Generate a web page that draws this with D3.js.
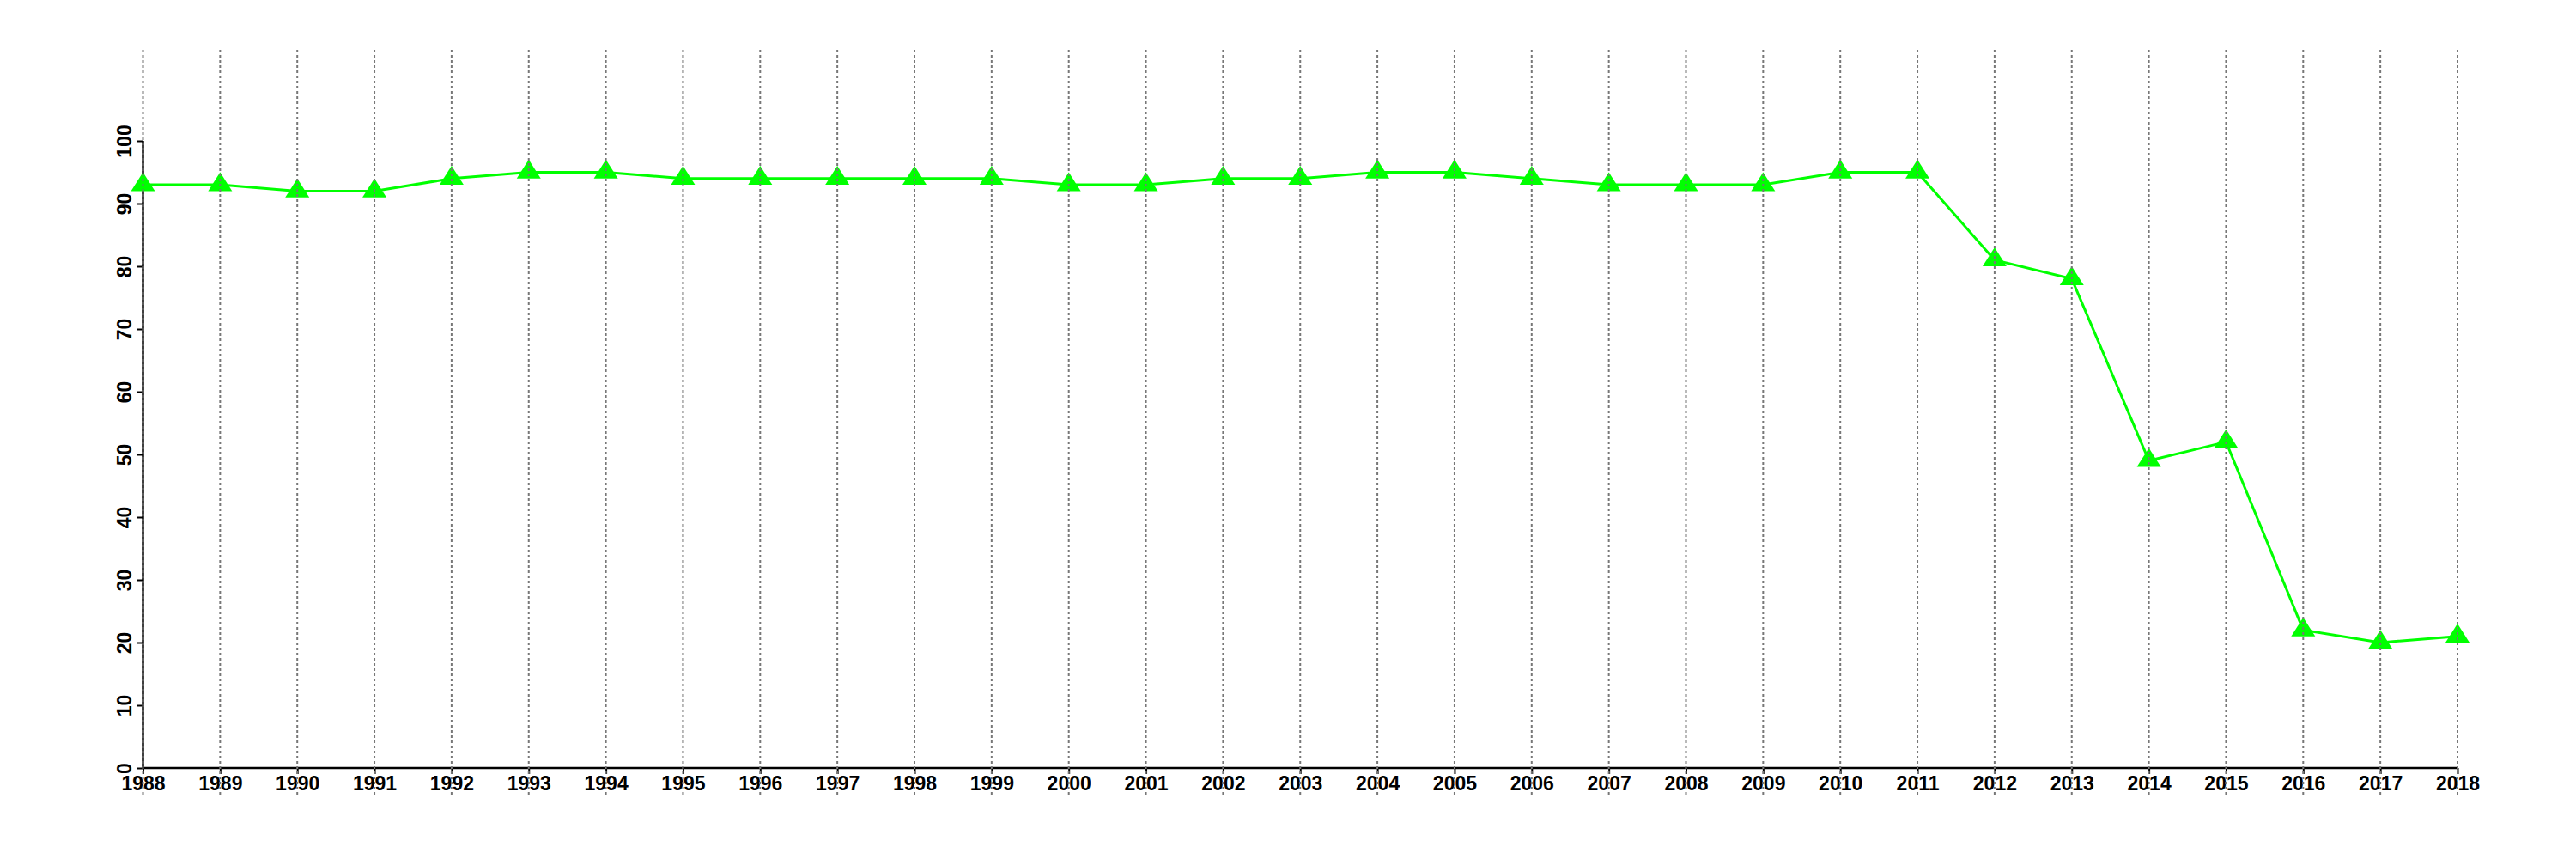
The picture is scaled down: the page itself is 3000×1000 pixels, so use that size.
<!DOCTYPE html>
<html>
<head>
<meta charset="utf-8">
<script src="https://cdn.jsdelivr.net/npm/d3@7"></script>
<style>
  html, body { margin: 0; padding: 0; background: #fff; }
  svg { display: block; }
  text { font-family: "Liberation Sans", Arial, Helvetica, sans-serif; font-weight: bold; font-size: 23px; fill: #000; }
</style>
</head>
<body>
<svg id="chart" width="3000" height="1000"></svg>
<script>
const years = [1988,1989,1990,1991,1992,1993,1994,1995,1996,1997,1998,1999,2000,2001,2002,2003,2004,2005,2006,2007,2008,2009,2010,2011,2012,2013,2014,2015,2016,2017,2018];
const values = [93,93,92,92,94,95,95,94,94,94,94,94,93,93,94,94,95,95,94,93,93,93,95,95,81,78,49,52,22,20,21];
const yTicks = [0,10,20,30,40,50,60,70,80,90,100];

const svg = d3.select("#chart");
const x0 = 166.5, x1 = 2862, yTop = 164, yBot = 894;

const x = d3.scaleLinear().domain([1988, 2018]).range([x0, x1]);
const y = d3.scaleLinear().domain([0, 100]).range([yBot, yTop]);

// Y axis
const yAxis = svg.append("g").attr("transform", `translate(${x0},0)`)
  .call(d3.axisLeft(y).tickValues(yTicks).tickSize(7).tickPadding(0).tickFormat(d3.format("d")));
yAxis.select(".domain").attr("stroke", "#000").attr("stroke-width", 2.5).attr("d", `M0,${yTop}V${yBot}`);
yAxis.selectAll(".tick line").attr("stroke", "#000").attr("stroke-width", 2);
yAxis.selectAll(".tick text")
  .attr("x", null).attr("dy", null)
  .attr("transform", "translate(-13.5,0) rotate(-90)")
  .attr("text-anchor", "middle")
  .attr("y", 0)
  .style("font-family", "'Liberation Sans', Arial, sans-serif")
  .style("font-weight", "bold")
  .style("font-size", "23px")
  .attr("fill", "#000");

// X axis
const xAxis = svg.append("g").attr("transform", `translate(0,${yBot})`)
  .call(d3.axisBottom(x).tickValues(years).tickSize(7).tickPadding(0).tickFormat(d3.format("d")));
xAxis.select(".domain").attr("stroke", "#000").attr("stroke-width", 2.5).attr("d", `M${x0},0H${x1}`);
xAxis.selectAll(".tick line").attr("stroke", "#000").attr("stroke-width", 2);
xAxis.selectAll(".tick text")
  .attr("y", 26).attr("dy", null)
  .attr("text-anchor", "middle")
  .style("font-family", "'Liberation Sans', Arial, sans-serif")
  .style("font-weight", "bold")
  .style("font-size", "23px")
  .attr("fill", "#000");

// Line
const data = years.map((yr, i) => ({yr, v: values[i]}));
svg.append("path").datum(data)
  .attr("fill", "none").attr("stroke", "#00ff00").attr("stroke-width", 3)
  .attr("d", d3.line().x(d => x(d.yr)).y(d => y(d.v)));

// Markers (triangles)
const tri = "M0,-14.7L14,7.3L-14,7.3Z";
svg.append("g").selectAll("path").data(data).join("path")
  .attr("transform", d => `translate(${x(d.yr)},${y(d.v)})`)
  .attr("d", tri).attr("fill", "#00ff00");

// Vertical dotted gridlines (drawn on top)
svg.append("g").selectAll("line").data(years).join("line")
  .attr("x1", d => x(d)).attr("x2", d => x(d))
  .attr("y1", 58).attr("y2", 928)
  .attr("stroke", "#777").attr("stroke-width", 2)
  .attr("stroke-dasharray", "3,3");
</script>
</body>
</html>
